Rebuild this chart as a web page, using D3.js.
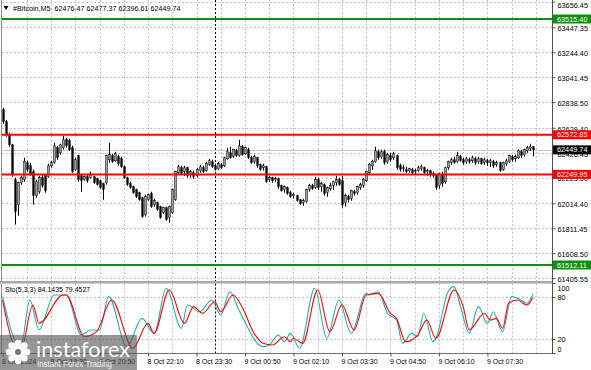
<!DOCTYPE html>
<html><head><meta charset="utf-8">
<script src="https://cdn.jsdelivr.net/npm/d3@7"></script>
<style>html,body{margin:0;padding:0;background:#fff;overflow:hidden}</style>
</head><body>
<svg id="c" width="591" height="370"></svg>
<script>
// ---------------- DATA ----------------
const symbolTitle = "#Bitcoin,M5";
const lastOHLC = ["62476.47", "62477.37", "62396.61", "62449.74"];
// candles: [open, high, low, close], one per 5-minute bar starting 8 Oct 18:10
const candles = [
[62776,62792,62662,62678],[62678,62694,62556,62572],[62572,62589,62475,62491],[62491,62499,62231,62247],
[62207,62223,61841,61946],[62003,62190,61914,62182],[62182,62239,62166,62223],[62207,62385,62190,62353],
[62345,62361,62272,62288],[62320,62345,62239,62247],[62272,62288,62003,62077],[62077,62207,62060,62190],
[62109,62239,62093,62223],[62223,62247,62142,62158],[62239,62255,62101,62117],[62231,62337,62223,62320],
[62320,62361,62304,62345],[62345,62507,62337,62483],[62467,62483,62369,62385],[62426,62499,62410,62491],
[62467,62564,62451,62532],[62532,62548,62467,62483],[62524,62540,62442,62451],[62467,62483,62263,62272],
[62288,62385,62280,62369],[62402,62410,62190,62207],[62239,62247,62109,62198],[62207,62239,62198,62231],
[62231,62247,62182,62198],[62223,62272,62215,62255],[62231,62239,62174,62182],[62215,62223,62158,62166],
[62198,62207,62133,62142],[62174,62182,62044,62125],[62182,62410,62166,62402],[62369,62507,62345,62410],
[62402,62418,62345,62353],[62361,62434,62353,62418],[62394,62410,62320,62337],[62377,62394,62304,62312],
[62312,62320,62215,62223],[62223,62231,62158,62166],[62174,62190,62133,62142],[62150,62158,62093,62101],
[62125,62133,62060,62068],[62101,62109,62036,62044],[62060,62068,61898,61906],[61922,62085,61906,62068],
[62044,62093,62036,62085],[62093,62109,61979,61987],[62003,62052,61987,62036],[62020,62028,61954,61963],
[61987,61995,61889,61898],[61938,61987,61930,61979],[61979,61987,61873,61881],[61898,61995,61857,61987],
[61938,62133,61930,62125],[62044,62280,62036,62272],[62263,62329,62255,62312],[62304,62320,62247,62255],
[62272,62320,62239,62304],[62304,62312,62223,62239],[62247,62288,62223,62272],[62263,62280,62215,62231],
[62239,62304,62223,62288],[62280,62329,62263,62312],[62304,62320,62263,62272],[62280,62353,62272,62337],
[62329,62377,62320,62361],[62353,62369,62304,62312],[62320,62337,62280,62288],[62296,62353,62288,62337],
[62329,62345,62296,62304],[62320,62394,62312,62385],[62377,62467,62369,62434],[62426,62475,62377,62385],
[62394,62459,62385,62451],[62442,62459,62394,62402],[62402,62532,62394,62483],[62475,62491,62402,62410],
[62418,62475,62410,62467],[62451,62467,62377,62385],[62385,62402,62337,62345],[62353,62410,62337,62394],
[62385,62394,62304,62320],[62329,62337,62280,62288],[62304,62337,62280,62320],[62312,62320,62182,62190],
[62207,62239,62190,62223],[62223,62231,62182,62198],[62207,62231,62190,62215],[62215,62223,62133,62150],
[62158,62166,62109,62117],[62125,62158,62101,62150],[62142,62150,62085,62093],[62101,62117,62060,62068],
[62077,62101,62052,62085],[62077,62085,62028,62036],[62044,62052,62003,62011],[62020,62052,61995,62036],
[62028,62133,62020,62125],[62125,62174,62109,62158],[62158,62174,62125,62133],[62142,62231,62133,62207],
[62207,62223,62125,62142],[62150,62190,62109,62174],[62166,62174,62077,62093],[62101,62150,62068,62142],
[62133,62182,62117,62158],[62158,62198,62125,62190],[62182,62239,62158,62207],[62207,62223,62158,62166],
[62198,62239,61979,62003],[62020,62093,61987,62077],[62068,62085,62020,62044],[62052,62125,62036,62117],
[62109,62125,62077,62093],[62101,62158,62085,62150],[62142,62182,62125,62166],[62158,62223,62142,62207],
[62198,62280,62190,62272],[62263,62345,62247,62329],[62320,62369,62288,62353],[62353,62475,62345,62442],
[62434,62451,62369,62385],[62394,62451,62377,62434],[62434,62451,62329,62345],[62353,62426,62337,62410],
[62402,62426,62353,62369],[62385,62434,62369,62418],[62402,62410,62288,62304],[62320,62337,62272,62288],
[62304,62329,62272,62296],[62288,62312,62263,62272],[62280,62304,62263,62296],[62288,62304,62255,62263],
[62272,62296,62247,62280],[62280,62320,62272,62304],[62296,62329,62280,62312],[62304,62312,62255,62263],
[62272,62296,62239,62280],[62280,62288,62231,62247],[62255,62272,62223,62239],[62247,62255,62125,62142],
[62158,62263,62133,62255],[62239,62272,62150,62174],[62190,62312,62174,62304],[62304,62361,62288,62353],
[62345,62385,62329,62369],[62369,62394,62337,62345],[62353,62434,62345,62402],[62394,62410,62353,62361],
[62369,62385,62329,62345],[62353,62394,62337,62377],[62369,62385,62337,62353],[62361,62402,62345,62385],
[62377,62394,62329,62345],[62353,62394,62337,62377],[62377,62385,62329,62337],[62345,62385,62329,62369],
[62361,62377,62320,62345],[62345,62377,62312,62361],[62353,62369,62304,62320],[62329,62361,62312,62345],
[62345,62353,62272,62280],[62288,62353,62280,62345],[62337,62377,62320,62361],[62353,62410,62345,62402],
[62394,62410,62353,62369],[62377,62410,62353,62394],[62385,62451,62377,62442],[62434,62451,62385,62402],
[62410,62459,62394,62451],[62442,62483,62426,62467],[62459,62499,62442,62475],[62476.47,62477.37,62396.61,62449.74]
];
const priceTicks = [63656.45, 63447.35, 63244.40, 63041.45, 62838.50, 62629.40, 62426.45, 62223.50, 62014.40, 61811.45, 61608.50, 61405.55];
const supportLevels = [63515.40, 61512.11];     // green lines
const resistanceLevels = [62572.85, 62249.95];  // red lines
const lastPrice = 62449.74;
const timeLabels = ["8 Oct 2024","8 Oct 19:30","8 Oct 20:50","8 Oct 22:10","8 Oct 23:30","9 Oct 00:50","9 Oct 02:10","9 Oct 03:30","9 Oct 04:50","9 Oct 06:10","9 Oct 07:30"];
const timeLabelBars = [0,16,32,48,64,80,96,112,128,144,160];
const daySeparatorBar = 70; // 9 Oct 00:00
const stochTitle = "Sto(5,3,3) 84.1435 79.4527";
const stochKBars = [0,4,6,9,12,17,21,26,29,32,35,41,46,50,54,59,61,65,69,72,75,78,86,88,91,93,95,98,103,107,111,115,120,121,124,127,130,132,135,137,139,142,143,147,149,151,154,157,160,162,164,165,168,170,172,173,175];
const stochK = [80.5,18.6,9,75.7,32.9,82.9,82.9,25.7,32.9,32.9,80.5,9,49.5,28,92.4,35.2,68.6,59,75.7,54.3,87.6,61.4,9,11.4,25.7,16.2,28,6.7,92.4,21,75.7,28,85.2,82.9,87.6,56.7,47.1,13.8,28,23.3,56.7,16.2,21,87.6,94.8,68.6,28,66.2,42.4,59,37.6,30.5,80.5,78.1,73.3,71,84.14];
const stochDBars = [0,4,6,10,12,20,21,27,31,36,43,48,50,55,60,63,66,70,72,76,79,83,86,89,93,95,96,99,104,108,112,116,120,124,128,130,133,137,140,143,149,152,154,159,161,163,165,167,170,173,175];
const stochD = [75.7,9,4.3,68.6,42.4,82.9,82.9,23.3,30.5,75.7,6.7,42.4,28,90,42.4,66.2,56.7,73.3,59,82.9,66.2,28,13.8,11.4,23.3,16.2,21,13.8,90,30.5,68.6,32.9,82.9,85.2,56.7,49.5,16.2,25.7,47.1,21,90,66.2,32.9,56.7,47.1,49.5,35.2,71,75.7,68.6,79.45];
const stochLevels = [80, 20];
const stochTicks = [100, 80, 20, 0];

// ---------------- DRAW ----------------
const svg = d3.select("#c");
const FONT = "'Liberation Sans', Arial, sans-serif";
const W = 591, H = 370;
const plotRight = 552.5;
const mainTop = 0, mainBottom = 281;
const stTop = 283.5, stBottom = 353;

svg.append("rect").attr("width", W).attr("height", H).attr("fill", "#fff");

const x = d3.scaleLinear().domain([0, candles.length - 1]).range([2.6, 2.6 + 3.03 * (candles.length - 1)]);
const y = d3.scaleLinear().domain([61381.9, 63670.1]).range([mainBottom, mainTop]);
const ys = d3.scaleLinear().domain([0, 100]).range([stBottom, 283]);

const grid = svg.append("g");
const vgrid = d3.range(8, 177, 8);
vgrid.forEach(b => {
  const xx = Math.round(x(b)) + 0.5;
  grid.append("line").attr("x1", xx).attr("x2", xx).attr("y1", mainTop).attr("y2", mainBottom)
    .attr("stroke", "#c4c4c4").attr("stroke-dasharray", "2,2");
  grid.append("line").attr("x1", xx).attr("x2", xx).attr("y1", stTop).attr("y2", stBottom)
    .attr("stroke", "#c4c4c4").attr("stroke-dasharray", "2,2");
});
priceTicks.forEach(p => {
  const yy = Math.round(y(p)) + 0.5;
  grid.append("line").attr("x1", 2).attr("x2", plotRight).attr("y1", yy).attr("y2", yy)
    .attr("stroke", "#c4c4c4").attr("stroke-dasharray", "2,2");
});
stochLevels.forEach(v => {
  const yy = Math.round(ys(v)) + 0.5;
  grid.append("line").attr("x1", 2).attr("x2", plotRight).attr("y1", yy).attr("y2", yy)
    .attr("stroke", "#c4c4c4").attr("stroke-dasharray", "2,2");
});
{
  const xx = Math.round(x(daySeparatorBar)) + 0.5;
  grid.append("line").attr("x1", xx).attr("x2", xx).attr("y1", mainTop).attr("y2", mainBottom)
    .attr("stroke", "#000").attr("stroke-dasharray", "2,2");
  grid.append("line").attr("x1", xx).attr("x2", xx).attr("y1", stTop).attr("y2", stBottom)
    .attr("stroke", "#000").attr("stroke-dasharray", "2,2");
}

// bid line
svg.append("line").attr("x1", 2).attr("x2", plotRight)
  .attr("y1", Math.round(y(lastPrice)) + 0.5).attr("y2", Math.round(y(lastPrice)) + 0.5)
  .attr("stroke", "#c8c8c8").attr("stroke-width", 1);

// candles
const cg = svg.append("g");
candles.forEach((d, i) => {
  const [o, h, l, c] = d;
  const cx = Math.round(x(i)) + 0.5;
  cg.append("line").attr("x1", cx).attr("x2", cx).attr("y1", y(h)).attr("y2", y(l))
    .attr("stroke", "#000").attr("stroke-width", 1);
  const top = y(Math.max(o, c)), bot = y(Math.min(o, c));
  const bull = c >= o;
  cg.append("rect").attr("x", cx - 1).attr("width", 2)
    .attr("y", top).attr("height", Math.max(1, bot - top))
    .attr("fill", bull ? "#a0a0a0" : "#000")
    .attr("stroke", "#000").attr("stroke-width", bull ? 0.5 : 0.3);
});

// horizontal levels
supportLevels.forEach(p => {
  svg.append("line").attr("x1", 2).attr("x2", plotRight).attr("y1", y(p)).attr("y2", y(p))
    .attr("stroke", "#0e900e").attr("stroke-width", 2);
});
resistanceLevels.forEach(p => {
  svg.append("line").attr("x1", 2).attr("x2", plotRight).attr("y1", y(p)).attr("y2", y(p))
    .attr("stroke", "#ff0000").attr("stroke-width", 2);
});

// stochastic lines
const kPts = stochKBars.map((b, i) => [b, stochK[i]]);
const dPts = stochDBars.map((b, i) => [b, stochD[i]]);
const sline = d3.line().x(d => x(d[0])).y(d => ys(d[1])).curve(d3.curveMonotoneX);
svg.append("path").attr("d", sline(kPts)).attr("fill", "none").attr("stroke", "#20b2aa").attr("stroke-width", 1.1);
svg.append("path").attr("d", sline(dPts)).attr("fill", "none").attr("stroke", "#ff0000").attr("stroke-width", 1.1);

// frames
svg.append("line").attr("x1", 1.5).attr("x2", 1.5).attr("y1", 0).attr("y2", mainBottom).attr("stroke", "#909090");
svg.append("line").attr("x1", 1.5).attr("x2", 1.5).attr("y1", stTop).attr("y2", stBottom).attr("stroke", "#909090");
svg.append("rect").attr("x", 0).attr("y", mainBottom).attr("width", plotRight).attr("height", 2.5).attr("fill", "#a8a8a8");
svg.append("line").attr("x1", 0).attr("x2", plotRight).attr("y1", stBottom + 0.5).attr("y2", stBottom + 0.5).attr("stroke", "#707070");
svg.append("line").attr("x1", plotRight).attr("x2", plotRight).attr("y1", 0).attr("y2", stBottom + 1).attr("stroke", "#505050");

// price axis
const pAxis = svg.append("g").attr("transform", `translate(${plotRight},0)`)
  .call(d3.axisRight(y).tickValues(priceTicks).tickFormat(d3.format(".2f")).tickSize(3).tickPadding(2));
pAxis.select(".domain").remove();
pAxis.selectAll("line").attr("stroke", "#505050");
pAxis.selectAll("text").attr("font-family", FONT).attr("font-size", 7.3).attr("fill", "#000").attr("dy", "0.45em");
pAxis.selectAll(".tick").filter(d => y(d) < 5).select("text").attr("y", 4 - y(priceTicks[0]));

// stoch axis
const sAxis = svg.append("g").attr("transform", `translate(${plotRight},0)`)
  .call(d3.axisRight(ys).tickValues(stochTicks).tickSize(3).tickPadding(2));
sAxis.select(".domain").remove();
sAxis.selectAll("line").attr("stroke", "#505050");
sAxis.selectAll("text").attr("font-family", FONT).attr("font-size", 7.3).attr("fill", "#000").attr("dy", "0.4em");
sAxis.selectAll(".tick").filter(d => d === 100).select("text").attr("y", 5);
sAxis.selectAll(".tick").filter(d => d === 0).select("text").attr("y", -4);

// level labels
function tag(p, bg) {
  const yy = y(p);
  svg.append("rect").attr("x", plotRight + 0.5).attr("y", yy - 4.5).attr("width", W - plotRight).attr("height", 9).attr("fill", bg);
  svg.append("text").attr("x", plotRight + 4.5).attr("y", yy).attr("dy", "0.36em")
    .attr("font-family", FONT).attr("font-size", 7.3).attr("fill", "#fff").text(d3.format(".2f")(p));
}
supportLevels.forEach(p => tag(p, "#0e900e"));
resistanceLevels.forEach(p => tag(p, "#ff0000"));
tag(lastPrice, "#000");

// time axis
const tAxis = svg.append("g").attr("transform", `translate(0,${stBottom + 0.5})`)
  .call(d3.axisBottom(x).tickValues(timeLabelBars).tickFormat((d, i) => timeLabels[i]).tickSize(3).tickPadding(2));
tAxis.select(".domain").remove();
tAxis.selectAll("line").attr("stroke", "#505050");
tAxis.selectAll("text").attr("font-family", FONT).attr("font-size", 7).attr("fill", "#000")
  .attr("text-anchor", "start").attr("x", -1).attr("dy", "0.8em");

// headers
svg.append("path").attr("d", "M3.5,6 L8.5,6 L6,10 Z").attr("fill", "#000");
svg.append("text").attr("x", 13).attr("y", 10.5).attr("font-family", FONT).attr("font-size", 7.2).attr("fill", "#000")
  .attr("xml:space", "preserve").text(symbolTitle + "  " + lastOHLC.join(" "));
svg.append("text").attr("x", 5).attr("y", 291.5).attr("font-family", FONT).attr("font-size", 7).attr("fill", "#000")
  .text(stochTitle);

// watermark
const lg = svg.append("g");
lg.append("rect").attr("x", 0).attr("y", 335).attr("width", 137).attr("height", 35).attr("fill", "#555").attr("opacity", 0.62);
const gx = 18, gy = 352;
d3.range(8).forEach(k => {
  const a = k * Math.PI / 4;
  lg.append("circle").attr("cx", gx + 9 * Math.cos(a)).attr("cy", gy + 9 * Math.sin(a)).attr("r", 3.3).attr("fill", "#fff");
});
lg.append("circle").attr("cx", gx).attr("cy", gy).attr("r", 7).attr("fill", "#fff");
lg.append("circle").attr("cx", gx).attr("cy", gy).attr("r", 3).attr("fill", "#777");
lg.append("text").attr("x", 36).attr("y", 356.5).attr("font-family", "Lato, 'Open Sans', sans-serif")
  .attr("font-size", 21).attr("fill", "#fff").attr("textLength", 94).attr("lengthAdjust", "spacingAndGlyphs").text("instaforex");
lg.append("text").attr("x", 37).attr("y", 366.5).attr("font-family", FONT)
  .attr("font-size", 8.5).attr("fill", "#f2f2f2").attr("textLength", 75).attr("lengthAdjust", "spacingAndGlyphs").text("Instant Forex Trading");
</script>
</body></html>
